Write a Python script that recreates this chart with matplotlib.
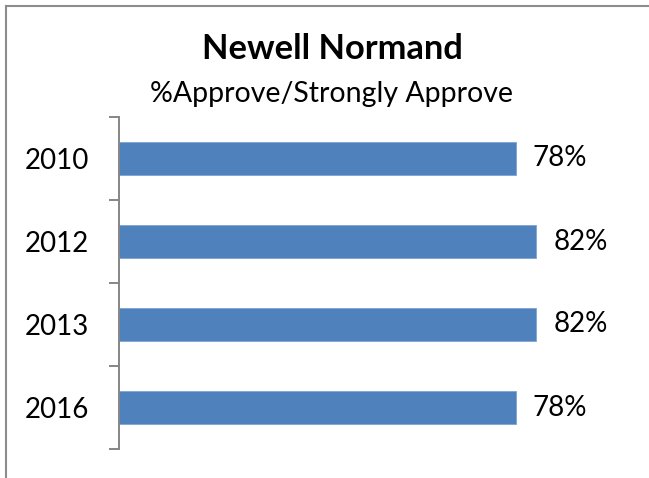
import matplotlib
matplotlib.use("Agg")
import matplotlib.pyplot as plt
from matplotlib.lines import Line2D

# approval by year
years = ["2010", "2012", "2013", "2016"]
approve = [78, 82, 82, 78]

plt.rcParams["font.family"] = ["Lato", "DejaVu Sans"]

fig = plt.figure(figsize=(6.49, 4.78), dpi=100)
ax = fig.add_axes([119 / 649, 1 - 449 / 478, 509 / 649, 332 / 478])

pos = list(range(len(years)))
ax.barh(pos, approve, height=0.4, color="#4F81BD", edgecolor="#7FA3D3", linewidth=0.6)
for p, v in zip(pos, approve):
    ax.text(v + 3.3, p, f"{v}%", va="center", ha="left", fontsize=20)

ax.set_xlim(0, 100)
ax.set_ylim(len(years) - 0.5, -0.5)

# category ticks sit between bars, labels at bar centres
ax.set_yticks([i - 0.5 for i in range(len(years) + 1)])
ax.set_yticklabels([])
ax.set_yticks(pos, minor=True)
ax.set_yticklabels(years, minor=True, fontsize=20)
ax.tick_params(axis="y", which="major", length=7, width=1.4, color="#868686")
ax.tick_params(axis="y", which="minor", length=0, pad=21.5)
ax.set_xticks([])

for s in ["top", "right", "bottom"]:
    ax.spines[s].set_visible(False)
ax.spines["left"].set_color("#868686")
ax.spines["left"].set_linewidth(1.4)

fig.text(332 / 649, 1 - 59 / 478, "Newell Normand", ha="center", va="baseline",
         fontsize=24.8, fontweight="bold")
fig.text(331 / 649, 1 - 102 / 478, "%Approve/Strongly Approve", ha="center", va="baseline",
         fontsize=20.5)

# outer chart border (only top/left visible in the crop)
fig.add_artist(Line2D([6 / 649, 1], [1 - 6 / 478, 1 - 6 / 478], color="#8C8C8C", lw=1.5))
fig.add_artist(Line2D([6 / 649, 6 / 649], [0, 1 - 6 / 478], color="#8C8C8C", lw=1.5))

fig.savefig("out.png", dpi=100)
